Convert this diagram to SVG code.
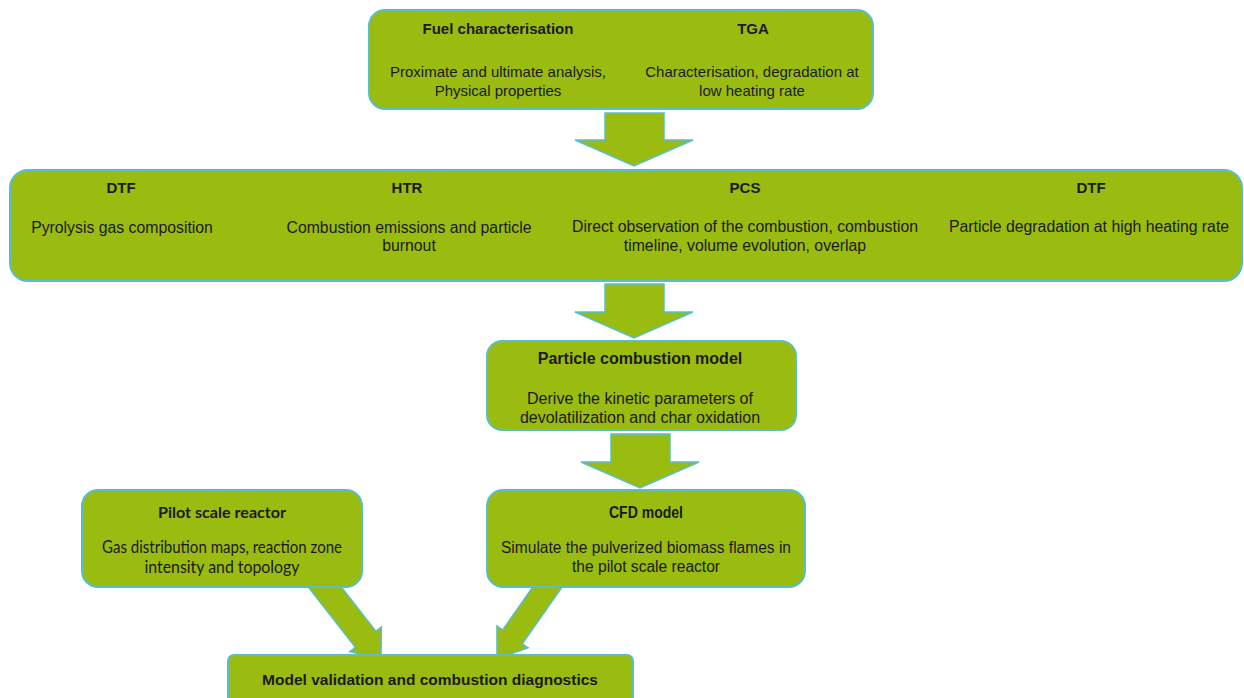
<svg xmlns="http://www.w3.org/2000/svg" width="1244" height="698" viewBox="0 0 1244 698">
<style>
.box{fill:#9abb10;stroke:#58bfca;stroke-width:2}
.arr{fill:#9abb10;stroke:#58bfca;stroke-width:1.5;stroke-linejoin:miter}
.t{font-family:"Liberation Sans",Arial,sans-serif;fill:#1a1a1a;text-anchor:middle}
.b{font-weight:bold}
.cal{font-family:Lato,"Open Sans",sans-serif;fill:#1a1a1a;text-anchor:middle}
</style>
<rect width="1244" height="698" fill="#ffffff"/>
<g id="connectors">
<polygon class="arr" points="605,113 664,113 664,140 693,140 634,166 575,140 605,140"/>
<polygon class="arr" points="605,284 664,284 664,312 693,312 634,338 575,312 605,312"/>
<polygon class="arr" points="611,434 670,434 670,462 699,462 640,488 581,462 611,462"/>
<polygon class="arr" transform="translate(381,659) rotate(52)" points="0,0 -25,-20 -25,-13 -115,-13 -115,13 -25,13 -25,20"/>
<polygon class="arr" transform="translate(497,659) rotate(125)" points="0,0 -27,-19 -27,-12 -115,-12 -115,12 -27,12 -27,19"/>
</g>
<g id="fuel-tga">
<rect class="box" x="369" y="10" width="504" height="99" rx="16"/>
<text class="t b" x="498" y="34" font-size="15">Fuel characterisation</text>
<text class="t b" x="753" y="34" font-size="15">TGA</text>
<text class="t" x="498" y="77" font-size="15">Proximate and ultimate analysis,</text>
<text class="t" x="498" y="96" font-size="15">Physical properties</text>
<text class="t" x="752" y="77" font-size="15">Characterisation, degradation at</text>
<text class="t" x="752" y="96" font-size="15">low heating rate</text>
</g>
<g id="experiments">
<rect class="box" x="10" y="170" width="1232" height="111" rx="18"/>
<text class="t b" x="121" y="193" font-size="15">DTF</text>
<text class="t" x="122" y="233" font-size="15.8">Pyrolysis gas composition</text>
<text class="t b" x="407" y="193" font-size="15">HTR</text>
<text class="t" x="409" y="233" font-size="15.8">Combustion emissions and particle</text>
<text class="t" x="409" y="251" font-size="15.8">burnout</text>
<text class="t b" x="745" y="193" font-size="15">PCS</text>
<text class="t" x="745" y="232" font-size="15.8">Direct observation of the combustion, combustion</text>
<text class="t" x="745" y="251" font-size="15.8">timeline, volume evolution, overlap</text>
<text class="t b" x="1091" y="193" font-size="15">DTF</text>
<text class="t" x="1089" y="232" font-size="15.8">Particle degradation at high heating rate</text>
</g>
<g id="particle-model">
<rect class="box" x="487" y="341" width="309" height="89" rx="15"/>
<text class="t b" x="640" y="364" font-size="16">Particle combustion model</text>
<text class="t" x="640" y="404" font-size="16">Derive the kinetic parameters of</text>
<text class="t" x="640" y="423" font-size="16">devolatilization and char oxidation</text>
</g>
<g id="pilot-reactor">
<rect class="box" x="82" y="490" width="280" height="97" rx="16"/>
<text class="cal b" x="222" y="518" font-size="16" textLength="128" lengthAdjust="spacingAndGlyphs">Pilot scale reactor</text>
<text class="cal" x="222" y="553" font-size="17" textLength="240" lengthAdjust="spacingAndGlyphs">Gas distribution maps, reaction zone</text>
<text class="cal" x="222" y="573" font-size="17" textLength="155" lengthAdjust="spacingAndGlyphs">intensity and topology</text>
</g>
<g id="cfd-model">
<rect class="box" x="487" y="490" width="318" height="97" rx="16"/>
<text class="t b" x="646" y="518" font-size="16" textLength="74" lengthAdjust="spacingAndGlyphs">CFD model</text>
<text class="t" x="646" y="553" font-size="16" textLength="290" lengthAdjust="spacingAndGlyphs">Simulate the pulverized biomass flames in</text>
<text class="t" x="646" y="572" font-size="16" textLength="148" lengthAdjust="spacingAndGlyphs">the pilot scale reactor</text>
</g>
<g id="validation">
<rect class="box" x="228" y="655" width="405" height="60" rx="6"/>
<text class="t b" x="430" y="685" font-size="15.5">Model validation and combustion diagnostics</text>
</g>
</svg>
